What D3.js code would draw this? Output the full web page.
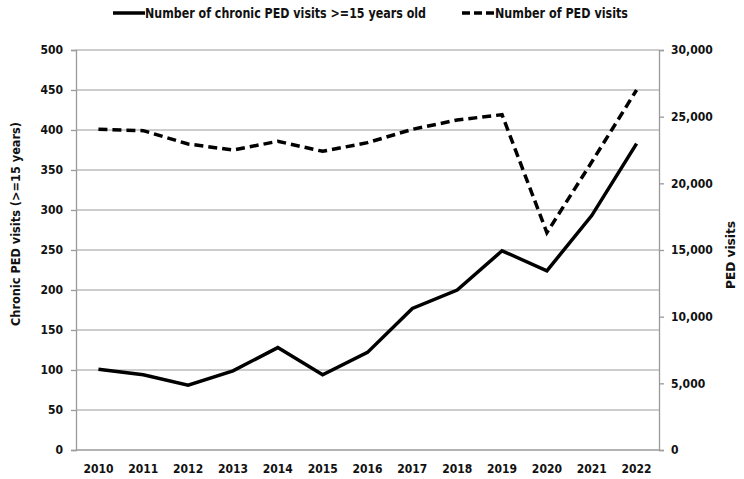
<!DOCTYPE html>
<html><head><meta charset="utf-8">
<script src="https://cdn.jsdelivr.net/npm/d3@7"></script>
<style>body{margin:0;background:#fff;} svg{display:block;font-family:'DejaVu Sans Condensed','Liberation Sans','Open Sans',sans-serif;font-weight:bold;}</style>
</head><body>
<svg id="c" width="744" height="479"></svg>
<script>
const years = ["2010","2011","2012","2013","2014","2015","2016","2017","2018","2019","2020","2021","2022"];
const chronicVisits = [101, 94, 81, 99, 128, 94, 122, 177, 200, 249, 224, 293, 383];
const pedVisits = [24050, 23950, 22950, 22500, 23150, 22400, 23050, 24050, 24750, 25150, 16300, 21600, 27000];
const leftTicks = [0,50,100,150,200,250,300,350,400,450,500];
const rightTicks = [0,5000,10000,15000,20000,25000,30000];
const legendLabels = ["Number of chronic PED visits >=15 years old","Number of PED visits"];

const svg = d3.select("#c");
const L = 76, R = 659, T = 50, B = 450;
const x = d3.scaleBand().domain(years).range([L, R]).paddingInner(0).paddingOuter(0);
const yL = d3.scaleLinear().domain([0,500]).range([B, T]);
const yR = d3.scaleLinear().domain([0,30000]).range([B, T]);

// gridlines
svg.append("g").selectAll("line").data(leftTicks.filter(d=>d>0)).join("line")
  .attr("x1", L).attr("x2", R).attr("y1", d=>yL(d)).attr("y2", d=>yL(d))
  .attr("stroke", "#bdbdbd").attr("stroke-width", 1.3);

const axisColor = "#9a9a9a";
const gL = svg.append("g").attr("transform", `translate(${L},0)`)
  .call(d3.axisLeft(yL).tickValues(leftTicks).tickSize(5).tickPadding(8));
const gR = svg.append("g").attr("transform", `translate(${R},0)`)
  .call(d3.axisRight(yR).tickValues(rightTicks).tickSize(5).tickPadding(7).tickFormat(d3.format(",")));
const gX = svg.append("g").attr("transform", `translate(0,${B})`)
  .call(d3.axisBottom(x).tickSize(0).tickPadding(14));
[gL,gR,gX].forEach(g=>{
  g.selectAll("path").attr("stroke", axisColor).attr("stroke-width",1.3);
  g.selectAll("line").attr("stroke", axisColor).attr("stroke-width",1.3);
  g.selectAll("text").attr("fill","#111").style("font-size","12px").style("font-weight","bold")
   .style("font-family","'DejaVu Sans Condensed','Liberation Sans',sans-serif");
});
gX.select("path").attr("d", `M${L},0H${R}`);

const cx = d => x(d) + x.bandwidth()/2;
const lineL = d3.line().x((d,i)=>cx(years[i])).y(d=>yL(d));
const lineR = d3.line().x((d,i)=>cx(years[i])).y(d=>yR(d));

svg.append("path").datum(pedVisits).attr("d", lineR).attr("fill","none")
  .attr("stroke","#000").attr("stroke-width",3.5).attr("stroke-dasharray","9,5");
svg.append("path").datum(chronicVisits).attr("d", lineL).attr("fill","none")
  .attr("stroke","#000").attr("stroke-width",3.5);

// axis titles
svg.append("text").attr("transform","translate(20,224) rotate(-90)").attr("text-anchor","middle")
  .style("font-size","13px").attr("fill","#111")
  .attr("textLength",204).attr("lengthAdjust","spacingAndGlyphs").text("Chronic PED visits (>=15 years)");
svg.append("text").attr("transform","translate(735,255) rotate(-90)").attr("text-anchor","middle")
  .style("font-size","13px").attr("fill","#111")
  .attr("textLength",68).attr("lengthAdjust","spacingAndGlyphs").text("PED visits");

// legend
const lg = svg.append("g");
lg.append("line").attr("x1",113).attr("x2",145).attr("y1",13).attr("y2",13).attr("stroke","#000").attr("stroke-width",3.5);
lg.append("text").attr("x",145).attr("y",18).style("font-size","14px").attr("fill","#111")
  .attr("textLength",281).attr("lengthAdjust","spacingAndGlyphs").text(legendLabels[0]);
lg.append("line").attr("x1",462).attr("x2",495).attr("y1",13).attr("y2",13).attr("stroke","#000").attr("stroke-width",3.5).attr("stroke-dasharray","8,4");
lg.append("text").attr("x",495).attr("y",18).style("font-size","14px").attr("fill","#111")
  .attr("textLength",133).attr("lengthAdjust","spacingAndGlyphs").text(legendLabels[1]);
</script>
</body></html>
